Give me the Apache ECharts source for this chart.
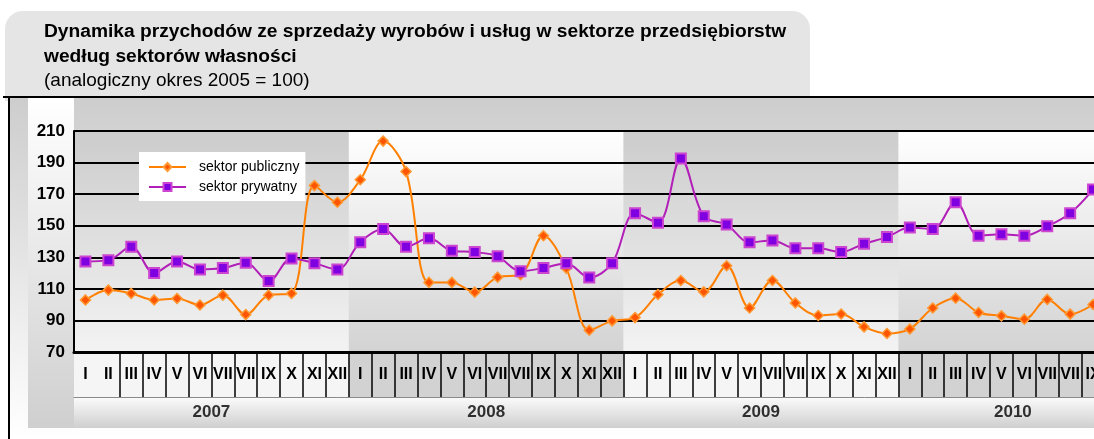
<!DOCTYPE html>
<html>
<head>
<meta charset="utf-8">
<script src="https://cdn.jsdelivr.net/npm/echarts@6/dist/echarts.min.js"></script>
<style>
html, body { margin: 0; padding: 0; background: #fff; overflow: hidden; }
#chart { width: 1140px; height: 439px; }
</style>
</head>
<body>
<div id="chart"></div>
<script>
// lata i miesiace na osi
const years = ['2007', '2008', '2009', '2010'];
const monthNames = ['I', 'II', 'III', 'IV', 'V', 'VI', 'VII', 'VIII', 'IX', 'X', 'XI', 'XII'];
const monthsShown = [12, 12, 12, 10];
const yTicks = { min: 70, max: 210, step: 20 };

// analogiczny okres 2005 = 100
const publicSector = [
    103.0, 109.2, 107.1, 103.0, 103.9, 99.8, 106.0, 93.7, 106.0, 107.1, 175.4, 164.9,
    179.1, 203.6, 184.3, 114.1, 114.1, 107.9, 117.4, 119.0, 143.7, 123.0, 83.8, 89.7,
    91.8, 106.4, 115.3, 108.1, 124.6, 97.9, 115.3, 101.1, 93.1, 94.1, 85.9, 81.7,
    84.6, 97.9, 104.1, 95.0, 92.9, 90.8, 103.3, 94.0, 100.1
];
const privateSector = [
    127.4, 128.2, 136.7, 120.0, 127.4, 122.3, 123.2, 126.5, 114.9, 129.3, 126.3, 122.3,
    139.6, 147.9, 136.7, 142.0, 134.2, 133.3, 130.6, 121.2, 123.2, 126.3, 117.2, 126.3,
    157.9, 151.9, 192.6, 156.0, 150.7, 139.5, 140.7, 135.7, 135.7, 133.3, 138.6, 142.8,
    148.8, 147.9, 164.9, 143.7, 144.6, 143.7, 149.6, 157.9, 172.9
];

const font = '"Liberation Sans", Arial, sans-serif';
const chart = echarts.init(document.getElementById('chart'));

function vgrad(top, bottom) {
    return new echarts.graphic.LinearGradient(0, 0, 0, 1, [
        { offset: 0, color: top },
        { offset: 1, color: bottom }
    ]);
}

// kategorie: rok-miesiac
const categories = [];
years.forEach((y, i) => {
    for (let m = 0; m < monthsShown[i]; m++) categories.push(y + '-' + monthNames[m]);
});
const total = categories.length;

// tla lat, komorki miesiecy, podpisy lat
const plotBands = [], cellBands = [], yearMarks = [];
let start = 0;
years.forEach((y, i) => {
    const end = start + monthsShown[i];
    plotBands.push([
        { xAxis: start, itemStyle: { color: i % 2 ? vgrad('#ffffff', '#d3d3d3') : vgrad('#cccccc', '#f3f3f3') } },
        { xAxis: end }
    ]);
    cellBands.push([
        { xAxis: start, itemStyle: { color: i % 2 ? '#d2d2d2' : '#f5f5f5' } },
        { xAxis: end }
    ]);
    yearMarks.push([(start + end) / 2, 0.5, y]);
    start = end;
});

const plotLeft = 74, cellW = 22.9, plotW = cellW * total;

chart.setOption({
    animation: false,
    graphic: [
        { type: 'rect', z: -10, shape: { x: 5, y: 11, width: 805, height: 90, r: [18, 18, 0, 0] }, style: { fill: '#e5e5e5' } },
        { type: 'rect', z: -9, shape: { x: 10, y: 97, width: 1130, height: 342 }, style: { fill: vgrad('#cdcdcd', '#ffffff') } },
        { type: 'rect', z: -8, shape: { x: 28, y: 98, width: 46, height: 330 }, style: { fill: vgrad('#ffffff', '#cfcfcf') } },
        { type: 'rect', z: -7, shape: { x: 3, y: 96, width: 1140, height: 2 }, style: { fill: '#000' } },
        { type: 'rect', z: -7, shape: { x: 8, y: 96, width: 2, height: 343 }, style: { fill: '#000' } }
    ],
    title: {
        text: 'Dynamika przychodów ze sprzedaży wyrobów i usług w sektorze przedsiębiorstw\nwedług sektorów własności',
        subtext: '(analogiczny okres 2005 = 100)',
        left: 39,
        top: 14,
        itemGap: 0,
        textStyle: { fontFamily: font, fontSize: 19.2, fontWeight: 'bold', color: '#000', lineHeight: 25 },
        subtextStyle: { fontFamily: font, fontSize: 19, color: '#000', lineHeight: 23 }
    },
    legend: {
        data: ['sektor publiczny', 'sektor prywatny'],
        orient: 'vertical',
        left: 139,
        top: 152,
        width: 164,
        padding: [8, 6, 7, 9],
        itemGap: 6,
        itemWidth: 37,
        itemHeight: 10,
        backgroundColor: '#fff',
        textStyle: { fontFamily: font, fontSize: 14, color: '#000', padding: [0, 0, 0, 8] }
    },
    grid: [
        { left: plotLeft, top: 131, width: plotW, height: 221 },
        { left: plotLeft, top: 352, width: plotW, height: 45 },
        { left: plotLeft, top: 397, width: plotW, height: 31, show: true, borderWidth: 0, backgroundColor: vgrad('#fbfbfb', '#cfcfcf') }
    ],
    xAxis: [
        {
            type: 'category', gridIndex: 0, data: categories, z: 3,
            axisLine: { show: true, lineStyle: { color: '#000', width: 3 } },
            axisTick: { show: false }, axisLabel: { show: false }
        },
        { type: 'value', gridIndex: 0, min: 0, max: total, show: false },
        {
            type: 'category', gridIndex: 1, data: categories, z: 3,
            axisLine: { show: true, lineStyle: { color: '#8a8a8a', width: 1 } },
            axisTick: { show: false },
            axisLabel: {
                inside: true, margin: 22, verticalAlign: 'middle', interval: 0,
                formatter: v => v.split('-')[1],
                fontFamily: font, fontSize: 16, fontWeight: 'bold', color: '#000',
                width: 21, overflow: 'truncate', ellipsis: ''
            },
            splitLine: { show: true, interval: i => i > 1, lineStyle: { color: '#000', width: 1.5 } }
        },
        { type: 'value', gridIndex: 1, min: 0, max: total, show: false },
        { type: 'value', gridIndex: 2, min: 0, max: total, show: false }
    ],
    yAxis: [
        {
            type: 'value', gridIndex: 0, min: yTicks.min, max: yTicks.max, interval: yTicks.step, z: 3,
            axisLine: { show: true, lineStyle: { color: '#000', width: 2 } },
            axisTick: { show: false },
            axisLabel: { margin: 9, fontFamily: font, fontSize: 17, fontWeight: 'bold', color: '#000' },
            splitLine: { lineStyle: { color: '#000', width: 2 } }
        },
        { type: 'value', gridIndex: 1, min: 0, max: 1, show: false },
        { type: 'value', gridIndex: 2, min: 0, max: 1, show: false }
    ],
    series: [
        {
            type: 'line', xAxisIndex: 1, yAxisIndex: 0, data: [], silent: true,
            markArea: { silent: true, data: plotBands }
        },
        {
            type: 'line', xAxisIndex: 3, yAxisIndex: 1, data: [], silent: true,
            markArea: { silent: true, data: cellBands }
        },
        {
            type: 'scatter', xAxisIndex: 4, yAxisIndex: 2, data: yearMarks, symbolSize: 0, silent: true,
            label: {
                show: true, position: 'inside', formatter: p => p.data[2],
                fontFamily: font, fontSize: 17, fontWeight: 'bold', color: '#000'
            }
        },
        {
            name: 'sektor publiczny', type: 'line', xAxisIndex: 0, yAxisIndex: 0, z: 5,
            data: publicSector, smooth: 0.35,
            symbol: 'diamond', symbolSize: 10,
            lineStyle: { color: '#ff8000', width: 2 },
            itemStyle: { color: '#ff5500', borderColor: '#ff9933', borderWidth: 1.5 }
        },
        {
            name: 'sektor prywatny', type: 'line', xAxisIndex: 0, yAxisIndex: 0, z: 5,
            data: privateSector, smooth: 0.35,
            symbol: 'rect', symbolSize: 10,
            lineStyle: { color: '#b21fb8', width: 2 },
            itemStyle: { color: '#7f00e0', borderColor: '#cc44d0', borderWidth: 2 }
        }
    ]
});
</script>
</body>
</html>
